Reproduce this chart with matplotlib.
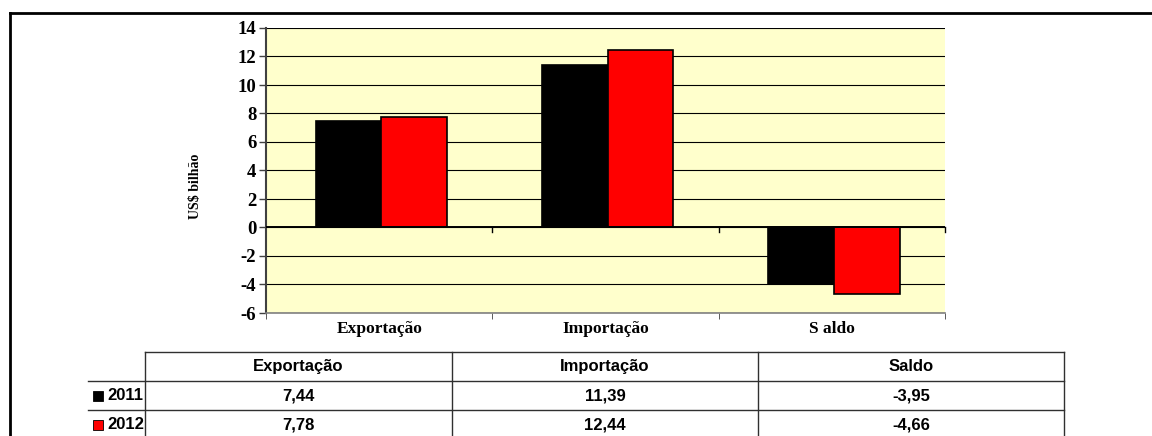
import matplotlib
matplotlib.use("Agg")
import matplotlib.pyplot as plt
from matplotlib.lines import Line2D
from matplotlib.patches import Rectangle

# data
categories = ["Exportação", "Importação", "Saldo"]
axis_labels = ["Exportação", "Importação", "S aldo"]
years = ["2011", "2012"]
values_2011 = [7.44, 11.39, -3.95]
values_2012 = [7.78, 12.44, -4.66]
bar_colors = ["#000000", "#FF0000"]
y_ticks = [-6, -4, -2, 0, 2, 4, 6, 8, 10, 12, 14]

W, H = 1152, 436
fig = plt.figure(figsize=(W / 100, H / 100), dpi=100)

def fx(px):
    return px / W

def fy(py):
    return 1 - py / H

# plot area
ax = fig.add_axes([fx(266), fy(313), fx(945) - fx(266), fy(28) - fy(313)])
ax.set_facecolor("#FFFFCC")
ax.set_xlim(-0.5, len(categories) - 0.5)
ax.set_ylim(y_ticks[0], y_ticks[-1])

xs = list(range(len(categories)))
bw = 0.29
ax.bar([x - 0.28 for x in xs], values_2011, width=bw, align="edge",
       color=bar_colors[0], edgecolor="black", linewidth=1.2, zorder=3)
ax.bar([x + 0.01 for x in xs], values_2012, width=bw, align="edge",
       color=bar_colors[1], edgecolor="black", linewidth=1.2, zorder=3)

ax.set_yticks(y_ticks)
ax.set_yticklabels([str(v) for v in y_ticks], fontfamily="Liberation Serif",
                   fontweight="bold", fontsize=13.5)
ax.yaxis.grid(True, color="black", linewidth=0.8, zorder=1)
ax.axhline(0, color="black", linewidth=1.4, zorder=4)
ax.tick_params(axis="y", direction="out", length=5, width=1, color="#404040", pad=2)

# category labels at the bottom, ticks between categories
ax.set_xticks(xs)
ax.set_xticklabels(axis_labels, fontfamily="Liberation Serif",
                   fontweight="bold", fontsize=12.5)
ax.tick_params(axis="x", length=0, pad=6)
bounds = [x + 0.5 for x in xs]
ax.set_xticks([-0.5] + bounds, minor=True)
ax.tick_params(axis="x", which="minor", direction="out", length=4, color="#404040")
for b in bounds:
    ax.plot([b, b], [0, -0.3], color="black", linewidth=1, zorder=4,
            clip_on=False)

for s in ["top", "right"]:
    ax.spines[s].set_visible(False)
ax.spines["left"].set_color("#404040")
ax.spines["left"].set_linewidth(1.5)
ax.spines["bottom"].set_color("#808080")
ax.spines["bottom"].set_linewidth(1.2)

fig.text(fx(196), fy(186), "US$ bilhão", rotation=90, ha="center", va="center",
         fontfamily="Liberation Serif", fontweight="bold", fontsize=10)

# outer frame (top and left edges)
fig.add_artist(Line2D([fx(10), fx(1152)], [fy(13), fy(13)], color="black", lw=2))
fig.add_artist(Line2D([fx(10), fx(10)], [fy(13), fy(436)], color="black", lw=2))

# data table
col_edges = [145, 452, 758, 1064]
row_edges = [352, 381, 410, 439]
label_left = 88
tcol = "#303030"
fig.add_artist(Line2D([fx(col_edges[0]), fx(col_edges[-1])],
                      [fy(row_edges[0]), fy(row_edges[0])], color=tcol, lw=1))
for r in row_edges[1:3]:
    fig.add_artist(Line2D([fx(label_left), fx(col_edges[-1])], [fy(r), fy(r)],
                          color=tcol, lw=1))
for c in col_edges:
    fig.add_artist(Line2D([fx(c), fx(c)], [fy(row_edges[0]), fy(H)],
                          color=tcol, lw=1))

tfont = dict(fontfamily="Liberation Sans", fontweight="bold", fontsize=12,
             ha="center", va="center")
for i, name in enumerate(categories):
    cx = (col_edges[i] + col_edges[i + 1]) / 2
    fig.text(fx(cx), fy((row_edges[0] + row_edges[1]) / 2), name, **tfont)
for j, (yr, vals) in enumerate(zip(years, [values_2011, values_2012])):
    cy = (row_edges[j + 1] + row_edges[j + 2]) / 2
    fig.add_artist(Rectangle((fx(93), fy(cy + 5)), fx(10), fy(0) - fy(10),
                             facecolor=bar_colors[j], edgecolor="black", lw=0.6))
    fig.text(fx(107), fy(cy), yr, fontfamily="Liberation Sans", fontweight="bold",
             fontsize=12, ha="left", va="center")
    for i, v in enumerate(vals):
        cx = (col_edges[i] + col_edges[i + 1]) / 2
        fig.text(fx(cx), fy(cy), f"{v:.2f}".replace(".", ","), **tfont)

fig.savefig("out.png", dpi=100)
